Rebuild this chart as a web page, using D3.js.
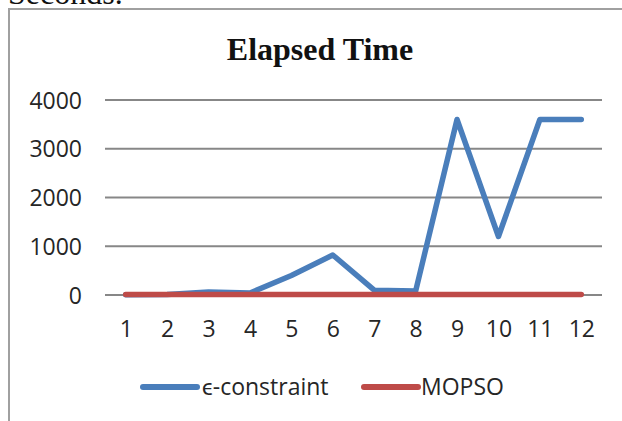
<!DOCTYPE html>
<html>
<head>
<meta charset="utf-8">
<script src="https://cdn.jsdelivr.net/npm/d3@7"></script>
<style>
  html, body { margin: 0; padding: 0; background: #fff; }
  svg { display: block; }
</style>
</head>
<body>
<svg id="chart" width="622" height="421"></svg>
<script>
// ---- data ----
const categories = ["1","2","3","4","5","6","7","8","9","10","11","12"];
const epsConstraint = [5, 10, 60, 40, 400, 820, 100, 80, 3600, 1200, 3600, 3600];
const mopso = [10, 10, 10, 10, 10, 10, 10, 10, 10, 10, 10, 10];
const yTicks = [0, 1000, 2000, 3000, 4000];
const seriesNames = ["\u03F5-constraint", "MOPSO"];
const seriesColors = ["#4a7ebb", "#be4b48"];
const chartTitle = "Elapsed Time";

const svg = d3.select("#chart");
const fontSans = "'Open Sans', Lato, sans-serif";
const fontSerif = "'Liberation Serif', 'Times New Roman', serif";

// caption text cut off at top
svg.append("text")
  .attr("x", 8).attr("y", 4)
  .attr("font-family", fontSerif).attr("font-size", 32)
  .attr("fill", "#111")
  .text("Seconds.");

// chart frame
svg.append("rect")
  .attr("x", 9).attr("y", 9)
  .attr("width", 700).attr("height", 500)
  .attr("fill", "#fff")
  .attr("stroke", "#a0a0a0").attr("stroke-width", 2);

// title
svg.append("text")
  .attr("x", 320).attr("y", 60)
  .attr("text-anchor", "middle")
  .attr("font-family", fontSerif).attr("font-weight", "bold")
  .attr("font-size", 32).attr("fill", "#111")
  .text(chartTitle);

const x = d3.scalePoint().domain(categories).range([105, 602]).padding(0.5);
const y = d3.scaleLinear().domain([0, 4000]).range([295, 100]);

// gridlines
svg.append("g").selectAll("line").data(yTicks).join("line")
  .attr("x1", 105).attr("x2", 602)
  .attr("y1", d => y(d)).attr("y2", d => y(d))
  .attr("stroke", "#878787").attr("stroke-width", 2);

// y axis labels
const yAxis = d3.axisLeft(y).tickValues(yTicks).tickFormat(d3.format("d")).tickSize(0).tickPadding(0);
const gy = svg.append("g").attr("transform", "translate(82,0)").call(yAxis);
gy.select(".domain").remove();
gy.selectAll("text")
  .attr("font-family", fontSans).attr("font-size", 23).attr("fill", "#262626")
  .attr("dy", "0.35em");

// x axis labels
const xAxis = d3.axisBottom(x).tickSize(0).tickPadding(0);
const gx = svg.append("g").attr("transform", "translate(0,321)").call(xAxis);
gx.select(".domain").remove();
gx.selectAll("text")
  .attr("font-family", fontSans).attr("font-size", 23).attr("fill", "#262626")
  .attr("dy", "0.71em");

// lines
const line = d3.line().x((d, i) => x(categories[i])).y(d => y(d));
[epsConstraint, mopso].forEach((vals, k) => {
  svg.append("path")
    .datum(vals)
    .attr("d", line)
    .attr("fill", "none")
    .attr("stroke", seriesColors[k])
    .attr("stroke-width", 5.5)
    .attr("stroke-linejoin", "round")
    .attr("stroke-linecap", "round");
});

// legend
const legendItems = [
  { x1: 143, x2: 197, tx: 202 },
  { x1: 364, x2: 418, tx: 421 }
];
legendItems.forEach((it, k) => {
  svg.append("line")
    .attr("x1", it.x1).attr("x2", it.x2)
    .attr("y1", 387).attr("y2", 387)
    .attr("stroke", seriesColors[k]).attr("stroke-width", 6)
    .attr("stroke-linecap", "round");
  svg.append("text")
    .attr("x", it.tx).attr("y", 387).attr("dy", "0.35em")
    .attr("font-family", fontSans).attr("font-size", 23).attr("fill", "#262626")
    .text(seriesNames[k]);
});
</script>
</body>
</html>
